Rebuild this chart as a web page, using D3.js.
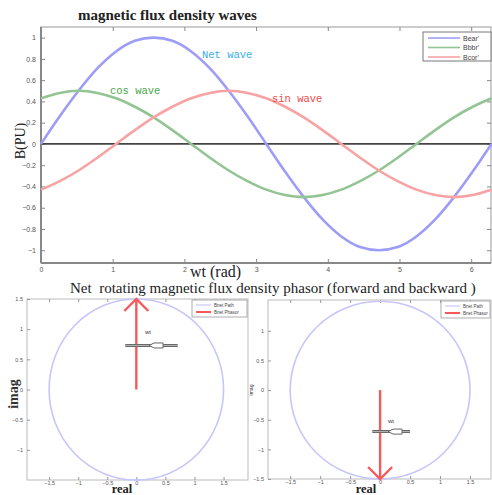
<!DOCTYPE html>
<html>
<head>
<meta charset="utf-8">
<script src="https://cdn.jsdelivr.net/npm/d3@7"></script>
<style>
  body { margin: 0; background: #fff; }
  text { font-family: "Liberation Sans", Arial, sans-serif; }
  .serif { font-family: "Liberation Serif", "Times New Roman", serif; }
  .mono { font-family: "Liberation Mono", "Courier New", monospace; }
</style>
</head>
<body>
<div id="chart"></div>
<script>
  // wave samples, every 15 degrees from 0 to 2*pi
  var waveX = d3.range(25).map(function(i) { return i * Math.PI / 12; });
  var netWave = [0, 0.26, 0.5, 0.71, 0.87, 0.97, 1, 0.97, 0.87, 0.71, 0.5, 0.26, 0,
    -0.26, -0.5, -0.71, -0.87, -0.97, -1, -0.97, -0.87, -0.71, -0.5, -0.26, 0];
  var cosWave = [0.43, 0.48, 0.5, 0.48, 0.43, 0.35, 0.25, 0.13, 0, -0.13, -0.25, -0.35, -0.43,
    -0.48, -0.5, -0.48, -0.43, -0.35, -0.25, -0.13, 0, 0.13, 0.25, 0.35, 0.43];
  var sinWave = [-0.43, -0.35, -0.25, -0.13, 0, 0.13, 0.25, 0.35, 0.43, 0.48, 0.5, 0.48, 0.43,
    0.35, 0.25, 0.13, 0, -0.13, -0.25, -0.35, -0.43, -0.48, -0.5, -0.48, -0.43];
  var waveNames = ["Bear'", "Bbbr'", "Bcor'"];
  var waveColors = ['#9d9df7', '#93c493', '#f7a3a3'];

  var waveXTicks = [0, 1, 2, 3, 4, 5, 6];
  var waveYTicks = [-1, -0.8, -0.6, -0.4, -0.2, 0, 0.2, 0.4, 0.6, 0.8, 1];

  // phasor plots
  var pathRadius = 1.5;
  var phasorFwd = [{ x: 0, y: 0 }, { x: 0, y: 1.5 }];
  var phasorBwd = [{ x: 0, y: 0 }, { x: 0, y: -1.5 }];
  var phasorTicks = [-1.5, -1, -0.5, 0, 0.5, 1, 1.5];
  var phasorLegend = ['Bnet Path', 'Bnet Phasor'];

  var fmt = d3.format('~g');

  var svg = d3.select('#chart')
    .append('svg')
    .attr('width', 492)
    .attr('height', 495);

  svg.append('rect').attr('width', 492).attr('height', 495).attr('fill', '#fff');

  // ---------- top wave chart ----------
  var x = d3.scaleLinear().domain([0, 2 * Math.PI]).range([41, 491.5]);
  var y = d3.scaleLinear().domain([-1.12, 1.1]).range([263, 27]);

  // frame
  svg.append('rect')
    .attr('x', 41).attr('y', 27)
    .attr('width', 450).attr('height', 236)
    .attr('fill', 'none')
    .attr('stroke', '#999')
    .attr('stroke-width', 1);
  svg.append('line')
    .attr('x1', 41).attr('x2', 41).attr('y1', 27).attr('y2', 263)
    .attr('stroke', '#888').attr('stroke-width', 2);
  svg.append('line')
    .attr('x1', 41).attr('x2', 491).attr('y1', 263).attr('y2', 263)
    .attr('stroke', '#888').attr('stroke-width', 2);

  var xAxis = svg.append('g')
    .attr('transform', 'translate(0,263)')
    .call(d3.axisBottom(x).tickValues(waveXTicks).tickSize(-4).tickPadding(4).tickFormat(fmt));
  xAxis.select('.domain').remove();
  xAxis.selectAll('line').attr('stroke', '#888');
  xAxis.selectAll('text').attr('font-size', 7).attr('fill', '#555');

  var xTop = svg.append('g')
    .attr('transform', 'translate(0,27)')
    .call(d3.axisTop(x).tickValues(waveXTicks).tickSize(-4).tickFormat(''));
  xTop.select('.domain').remove();
  xTop.selectAll('line').attr('stroke', '#888');

  var yAxis = svg.append('g')
    .attr('transform', 'translate(41,0)')
    .call(d3.axisLeft(y).tickValues(waveYTicks).tickSize(-4).tickPadding(5).tickFormat(fmt));
  yAxis.select('.domain').remove();
  yAxis.selectAll('line').attr('stroke', '#888');
  yAxis.selectAll('text').attr('font-size', 7).attr('fill', '#555');

  var yRight = svg.append('g')
    .attr('transform', 'translate(491,0)')
    .call(d3.axisRight(y).tickValues(waveYTicks).tickSize(-4).tickFormat(''));
  yRight.select('.domain').remove();
  yRight.selectAll('line').attr('stroke', '#888');

  // zero line
  svg.append('line')
    .attr('x1', x(0)).attr('x2', x(2 * Math.PI))
    .attr('y1', y(0)).attr('y2', y(0))
    .attr('stroke', '#444').attr('stroke-width', 1.8);

  var line = d3.line()
    .x(function(d) { return x(d[0]); })
    .y(function(d) { return y(d[1]); })
    .curve(d3.curveMonotoneX);

  [netWave, cosWave, sinWave].forEach(function(series, i) {
    svg.append('path')
      .datum(waveX.map(function(v, j) { return [v, series[j]]; }))
      .attr('fill', 'none')
      .attr('stroke', waveColors[i])
      .attr('stroke-width', 2.6)
      .attr('d', line);
  });

  // legend
  var lg = svg.append('g').attr('transform', 'translate(423,32)');
  lg.append('rect')
    .attr('width', 68).attr('height', 29)
    .attr('fill', '#fff').attr('stroke', '#777').attr('stroke-width', 1);
  waveNames.forEach(function(name, i) {
    lg.append('line')
      .attr('x1', 5).attr('x2', 37).attr('y1', 6 + i * 9.5).attr('y2', 6 + i * 9.5)
      .attr('stroke', waveColors[i]).attr('stroke-width', 1.6);
    lg.append('text')
      .attr('x', 40).attr('y', 8.5 + i * 9.5)
      .attr('font-size', 7).attr('fill', '#444')
      .text(name);
  });

  // in-plot labels
  svg.append('text').attr('class', 'mono')
    .attr('x', 202).attr('y', 58).attr('font-size', 10.5).attr('fill', '#3aaee6')
    .text('Net wave');
  svg.append('text').attr('class', 'mono')
    .attr('x', 110).attr('y', 94).attr('font-size', 10.5).attr('fill', '#48a848')
    .text('cos wave');
  svg.append('text').attr('class', 'mono')
    .attr('x', 272).attr('y', 102).attr('font-size', 10.5).attr('fill', '#ee4848')
    .text('sin wave');

  // titles
  svg.append('text').attr('class', 'serif')
    .attr('x', 78).attr('y', 20)
    .attr('font-size', 15).attr('font-weight', 'bold').attr('fill', '#222')
    .text('magnetic flux density waves');
  svg.append('text').attr('class', 'serif')
    .attr('x', 190).attr('y', 277)
    .attr('font-size', 16).attr('fill', '#222')
    .text('wt (rad)');
  svg.append('text').attr('class', 'serif')
    .attr('transform', 'translate(25,141) rotate(-90)')
    .attr('text-anchor', 'middle')
    .attr('font-size', 14).attr('fill', '#222')
    .text('B(PU)');

  svg.append('text').attr('class', 'serif')
    .attr('x', 70).attr('y', 293)
    .attr('font-size', 15).attr('fill', '#222')
    .attr('xml:space', 'preserve')
    .text('Net  rotating magnetic flux density phasor (forward and backward )');

  // ---------- phasor subplots ----------
  function drawPhasor(opts) {
    var px = d3.scaleLinear().domain(opts.xDomain).range([opts.left, opts.right]);
    var py = d3.scaleLinear().domain(opts.yDomain).range([opts.bottom, opts.top]);
    var g = svg.append('g');

    g.append('rect')
      .attr('x', opts.left).attr('y', opts.top)
      .attr('width', opts.right - opts.left).attr('height', opts.bottom - opts.top)
      .attr('fill', 'none').attr('stroke', '#bbb').attr('stroke-width', 1);

    var bx = g.append('g').attr('transform', 'translate(0,' + opts.bottom + ')')
      .call(d3.axisBottom(px).tickValues(phasorTicks).tickSize(-3).tickPadding(1).tickFormat(fmt));
    bx.select('.domain').remove();
    bx.selectAll('line').attr('stroke', '#999');
    bx.selectAll('text').attr('font-size', 5.5).attr('fill', '#555');

    var tx = g.append('g').attr('transform', 'translate(0,' + opts.top + ')')
      .call(d3.axisTop(px).tickValues(phasorTicks).tickSize(-3).tickFormat(''));
    tx.select('.domain').remove();
    tx.selectAll('line').attr('stroke', '#999');

    var ly = g.append('g').attr('transform', 'translate(' + opts.left + ',0)')
      .call(d3.axisLeft(py).tickValues(opts.yTicks).tickSize(-3).tickPadding(4).tickFormat(fmt));
    ly.select('.domain').remove();
    ly.selectAll('line').attr('stroke', '#999');
    ly.selectAll('text').attr('font-size', 5.5).attr('fill', '#555');

    // path circle
    g.append('ellipse')
      .attr('cx', px(0)).attr('cy', py(0))
      .attr('rx', px(pathRadius) - px(0))
      .attr('ry', py(0) - py(pathRadius))
      .attr('fill', 'none')
      .attr('stroke', '#c6c6fa')
      .attr('stroke-width', 1.6);

    // phasor
    var pl = d3.line().x(function(d) { return px(d.x); }).y(function(d) { return py(d.y); });
    g.append('path').datum(opts.phasor)
      .attr('d', pl)
      .attr('fill', 'none').attr('stroke', '#f55a5a').attr('stroke-width', 2.4);
    var tip = opts.phasor[1];
    var dir = tip.y > 0 ? 1 : -1;
    var tx0 = px(tip.x), ty0 = py(tip.y);
    g.append('path')
      .attr('d', 'M' + (tx0 - 12) + ',' + (ty0 + dir * 12) + 'L' + tx0 + ',' + ty0 + 'L' + (tx0 + 12) + ',' + (ty0 + dir * 12))
      .attr('fill', 'none').attr('stroke', '#f55a5a').attr('stroke-width', 2.4);

    // wt annotation
    var ay = py(opts.wt.y);
    var ax1 = px(opts.wt.x1), ax2 = px(opts.wt.x2);
    g.append('line')
      .attr('x1', ax1).attr('x2', ax2).attr('y1', ay).attr('y2', ay)
      .attr('stroke', '#666').attr('stroke-width', 3);
    g.append('line')
      .attr('x1', ax1).attr('x2', ax2).attr('y1', ay).attr('y2', ay)
      .attr('stroke', '#ccc').attr('stroke-width', 0.8);
    var hx = ax1 + (ax2 - ax1) * 0.55;
    g.append('path')
      .attr('d', 'M' + (hx - 5) + ',' + ay + 'L' + hx + ',' + (ay - 2.5) + 'L' + (hx + 9) + ',' + (ay - 2.5) +
        'L' + (hx + 9) + ',' + (ay + 2.5) + 'L' + hx + ',' + (ay + 2.5) + 'Z')
      .attr('fill', '#fff').attr('stroke', '#666').attr('stroke-width', 1);
    g.append('text')
      .attr('x', px(opts.wt.tx)).attr('y', py(opts.wt.ty))
      .attr('text-anchor', 'middle')
      .attr('font-size', 6).attr('fill', '#333')
      .text('wt');

    // legend
    var lgd = g.append('g').attr('transform', 'translate(' + (opts.right - opts.legendW) + ',' + (opts.top + 1) + ')');
    lgd.append('rect')
      .attr('width', opts.legendW - 1).attr('height', 17)
      .attr('fill', '#fff').attr('stroke', '#999').attr('stroke-width', 0.8);
    ['#c6c6fa', '#f55a5a'].forEach(function(c, i) {
      lgd.append('line')
        .attr('x1', 4).attr('x2', 19).attr('y1', 5 + i * 7).attr('y2', 5 + i * 7)
        .attr('stroke', c).attr('stroke-width', i ? 2 : 1.2);
      lgd.append('text')
        .attr('x', 22).attr('y', 7 + i * 7)
        .attr('font-size', 4.5).attr('fill', '#444')
        .text(phasorLegend[i]);
    });

    // axis labels
    g.append('text').attr('class', 'serif')
      .attr('x', opts.realX).attr('y', 493)
      .attr('text-anchor', 'middle')
      .attr('font-size', 12.5).attr('font-weight', 'bold').attr('fill', '#222')
      .text('real');
    g.append('text').attr('class', opts.imagSize > 8 ? 'serif' : '')
      .attr('transform', 'translate(' + opts.imagX + ',' + opts.imagY + ') rotate(-90)')
      .attr('text-anchor', 'middle')
      .attr('font-size', opts.imagSize).attr('font-weight', opts.imagSize > 8 ? 'bold' : 'normal')
      .attr('fill', '#333')
      .text('imag');
  }

  drawPhasor({
    left: 27, right: 248, top: 299, bottom: 480,
    xDomain: [-1.88, 1.92], yDomain: [-1.5, 1.5],
    yTicks: [-1, -0.5, 0, 0.5, 1, 1.5],
    phasor: phasorFwd,
    wt: { x1: -0.19, x2: 0.71, y: 0.73, tx: 0.2, ty: 0.92 },
    legendW: 56,
    realX: 122, imagX: 18, imagY: 394, imagSize: 14
  });

  drawPhasor({
    left: 268, right: 491, top: 300, bottom: 479,
    xDomain: [-1.87, 1.85], yDomain: [-1.5, 1.52],
    yTicks: [-1.5, -1, -0.5, 0, 0.5, 1],
    phasor: phasorBwd,
    wt: { x1: -0.13, x2: 0.5, y: -0.7, tx: 0.18, ty: -0.55 },
    legendW: 50,
    realX: 366, imagX: 253, imagY: 390, imagSize: 5
  });
</script>
</body>
</html>
